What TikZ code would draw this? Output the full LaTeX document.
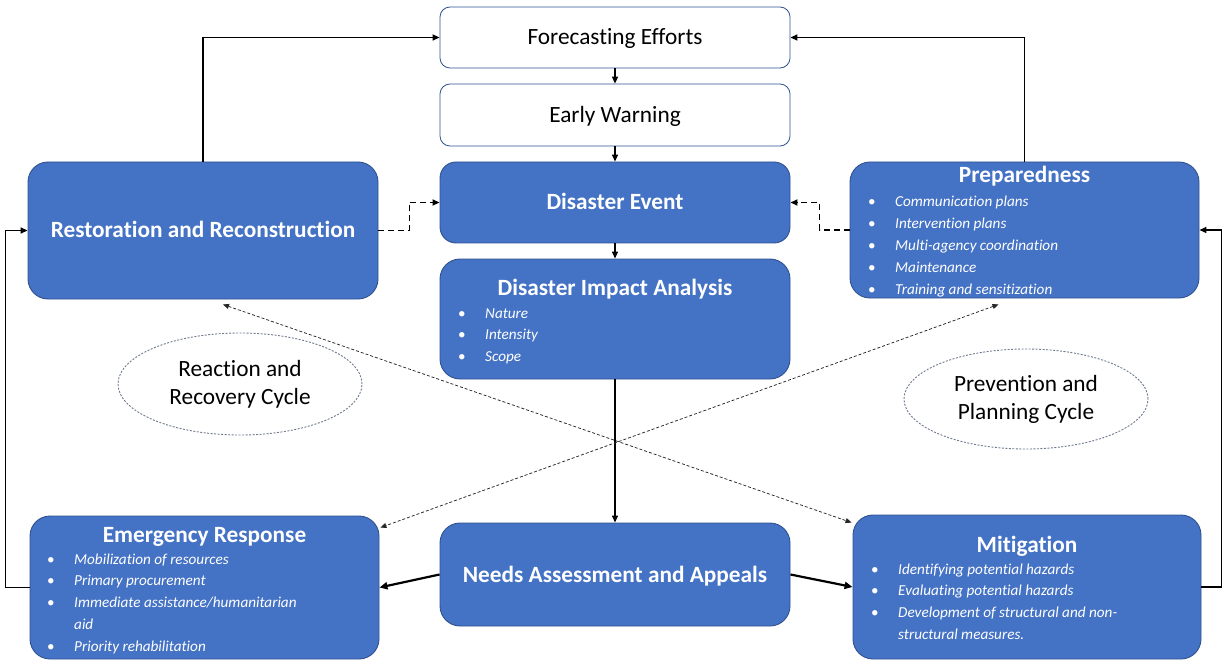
\documentclass[tikz,border=0pt]{standalone}
\usepackage{fontspec}
\setmainfont{Carlito}[Ligatures=NoCommon]
\usetikzlibrary{arrows.meta,shapes.geometric,calc}

\definecolor{boxblue}{HTML}{4472C4}
\definecolor{edgeblue}{HTML}{2F528F}
\definecolor{ringgray}{HTML}{6E7A8E}

\newcommand{\bigtext}{\fontsize{23.3}{28}\selectfont}
\newcommand{\smalltext}{\fontsize{15.2}{21.8}\selectfont}
\newcommand{\bl}{\makebox[27pt][l]{\upshape\textbullet}}

\begin{document}
\begin{tikzpicture}[x=1pt,y=-1pt,
  bluebox/.style={draw=edgeblue, line width=0.9pt, fill=boxblue, rounded corners=20pt,
    inner sep=0pt, text=white, font=\bigtext\bfseries, text height=15pt, text depth=0pt},
  whitebox/.style={draw=edgeblue, line width=0.8pt, fill=white, rounded corners=10pt,
    inner sep=0pt, font=\bigtext, text height=15pt, text depth=0pt},
  boxtitle/.style={anchor=base, inner sep=0pt, text=white, font=\bigtext\bfseries},
  itemlist/.style={anchor=base west, inner sep=0pt, text=white, font=\smalltext\itshape},
  cyclering/.style={ellipse, draw=ringgray, dash pattern=on 2pt off 1.5pt, line width=0.9pt,
    fill=white, inner sep=0pt, align=center, font=\bigtext},
  conn/.style={-{Triangle[length=7pt,width=6pt]}, line width=1.5pt},
  heavyconn/.style={-{Triangle[length=8pt,width=7pt]}, line width=2.2pt},
  dashconn/.style={-{Triangle[length=7pt,width=6pt]}, line width=1.8pt, dash pattern=on 6pt off 4pt},
  dotconn/.style={{Triangle[length=6pt,width=5pt]}-{Triangle[length=6pt,width=5pt]},
    line width=0.75pt, dash pattern=on 3pt off 2pt, draw=black!85}]

\useasboundingbox (0,0) rectangle (1225,660);

% central column
\node[whitebox, minimum width=350pt, minimum height=61pt] (fore) at (615,37.5) {Forecasting Efforts};
\node[whitebox, minimum width=350pt, minimum height=62pt] (early) at (615,115) {Early Warning};
\node[bluebox, minimum width=350pt, minimum height=81pt, rounded corners=16pt] (event) at (615,202.5) {Disaster Event};
\node[bluebox, minimum width=350pt, minimum height=120pt] (impact) at (615,319) {};
\node[bluebox, minimum width=350pt, minimum height=103pt] (needs) at (615,574.5) {Needs Assessment and Appeals};

% side boxes
\node[bluebox, minimum width=350pt, minimum height=137pt] (rest) at (203,230.5) {Restoration and Reconstruction};
\node[bluebox, minimum width=349pt, minimum height=136pt] (prep) at (1024.5,230) {};
\node[bluebox, minimum width=349pt, minimum height=143pt] (emerg) at (204.5,587.5) {};
\node[bluebox, minimum width=348pt, minimum height=144pt] (mitig) at (1027,587) {};

% titles and item lists
\node[boxtitle] (impactT) at (615,295) {Disaster Impact Analysis};
\node[itemlist] (impactL) at (458,318) {\begin{tabular}[t]{@{}l@{}}
  \bl Nature\\ \bl Intensity\\ \bl Scope\end{tabular}};

\node[boxtitle] (prepT) at (1024.5,183) {Preparedness};
\node[itemlist] (prepL) at (868,207) {\begin{tabular}[t]{@{}l@{}}
  \bl Communication plans\\ \bl Intervention plans\\ \bl Multi-agency coordination\\
  \bl Maintenance\\ \bl Training and sensitization\end{tabular}};

\node[boxtitle] (emergT) at (204.5,542) {Emergency Response};
\node[itemlist] (emergL) at (47,564) {\begin{tabular}[t]{@{}l@{}}
  \bl Mobilization of resources\\ \bl Primary procurement\\
  \bl Immediate assistance/humanitarian\\ \makebox[27pt]{}aid\\
  \bl Priority rehabilitation\end{tabular}};

\node[boxtitle] (mitigT) at (1027,552) {Mitigation};
\node[itemlist] (mitigL) at (871,574) {\begin{tabular}[t]{@{}l@{}}
  \bl Identifying potential hazards\\ \bl Evaluating potential hazards\\
  \bl Development of structural and non-\\ \makebox[27pt]{}structural measures.\end{tabular}};

% cycle labels
\node[cyclering, minimum width=244pt, minimum height=102pt] (react) at (240,384)
  {Reaction and\\Recovery Cycle};
\node[cyclering, minimum width=244pt, minimum height=100pt] (prevent) at (1026,399)
  {Prevention and\\Planning Cycle};

% main flow
\draw[conn] (fore.south) -- (early.north);
\draw[conn] (early.south) -- (event.north);
\draw[conn] (event.south) -- (impact.north);
\draw[conn] (impact.south) -- (needs.north);

% feedback to forecasting
\draw[conn] (rest.north) |- (fore.west);
\draw[conn] (prep.north) |- (fore.east);

% dashed links into the event
\draw[dashconn] (rest.east) -- ++(31,0) |- (event.west);
\draw[dashconn] (prep.west) -- ++(-30,0) |- (event.east);

% needs assessment outputs
\draw[heavyconn] (needs.west) -- (emerg.east);
\draw[heavyconn] (needs.east) -- (mitig.west);

% outer loops
\draw[conn] (emerg.west) -- ++(-24,0) |- (rest.west);
\draw[conn] (mitig.east) -- ++(20,0) |- (prep.east);

% crossing cycle links
\draw[dotconn] ($(rest.south)+(20,5)$) -- ($(mitig.north west)+(-1,8)$);
\draw[dotconn] ($(prep.south)+(-26,6)$) -- ($(emerg.north east)+(1,12)$);

\end{tikzpicture}
\end{document}
